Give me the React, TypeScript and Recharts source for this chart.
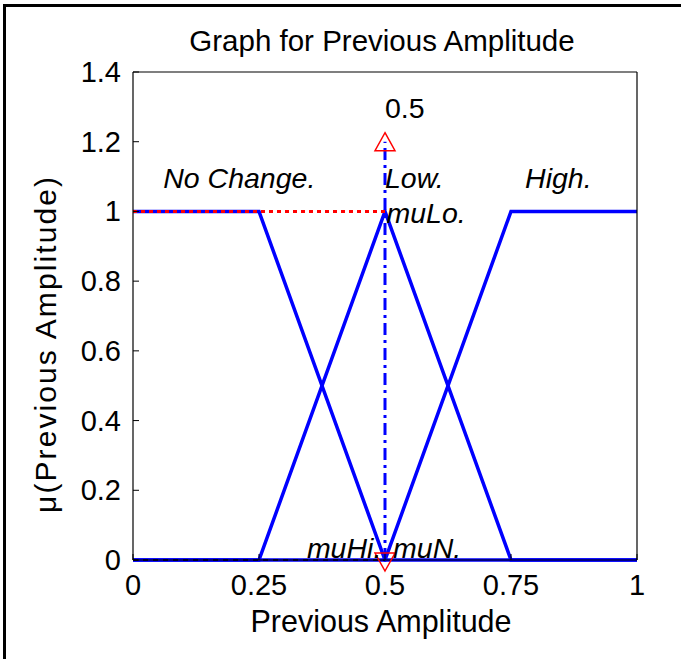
import React from "react";
import { ComposedChart, Line, Scatter, XAxis, YAxis } from "recharts";

const titleText = "Graph for Previous Amplitude";
const xLabelText = "Previous Amplitude";
const yLabelText = "\u03bc(Previous Amplitude)";

const xTicks = [0, 0.25, 0.5, 0.75, 1];
const xTickLabels = ["0", "0.25", "0.5", "0.75", "1"];
const yTicks = [0, 0.2, 0.4, 0.6, 0.8, 1, 1.2, 1.4];
const yTickLabels = ["0", "0.2", "0.4", "0.6", "0.8", "1", "1.2", "1.4"];

// membership functions
const noChangeX = [0, 0.25, 0.5, 1];
const noChangeY = [1, 1, 0, 0];
const lowX = [0, 0.25, 0.5, 0.75, 1];
const lowY = [0, 0, 1, 0, 0];
const highX = [0, 0.5, 0.75, 1];
const highY = [0, 0, 1, 1];

// crisp input and its memberships
const inputValue = 0.5;
const muLo = 1;
const arrowTop = 1.2;

const annotationX = [0.5, 0.06, 0.5, 0.778, 0.503, 0.345, 0.516];
const annotationY = [1.297, 1.096, 1.096, 1.096, 0.995, 0.035, 0.035];
const annotationText = ["0.5", "No Change.", "Low.", "High.", "muLo.", "muHi.", "muN."];
const annotationItalic = [false, true, true, true, true, true, true];

const toPts = (xs: number[], ys: number[]) => xs.map((x, i) => ({ x, y: ys[i] }));

const noChange = toPts(noChangeX, noChangeY);
const low = toPts(lowX, lowY);
const high = toPts(highX, highY);
const verticalLine = toPts([inputValue, inputValue], [0, arrowTop]);
const redDotted = toPts([0, inputValue], [muLo, muLo]);
const blackDashed = toPts([0, inputValue], [0, 0]);
const upMarker = toPts([inputValue], [arrowTop]);
const downMarker = toPts([inputValue], [0]);
const annotations = annotationX.map((x, i) => ({
  x,
  y: annotationY[i],
  text: annotationText[i],
  italic: annotationItalic[i],
}));

const FONT = "'Liberation Sans', Arial, Helvetica, sans-serif";
const FS = 29;
const TICK = 6;

const BottomTick = (p: any) => {
  const { x, y, index } = p;
  return (
    <g>
      <line x1={x} x2={x} y1={y} y2={y - TICK} stroke="#000" strokeWidth={1} />
      <text x={x} y={y + 35} textAnchor="middle" fontFamily={FONT} fontSize={FS} fill="#000">
        {xTickLabels[index]}
      </text>
    </g>
  );
};
const TopTick = (p: any) => {
  const { x, y } = p;
  return <line x1={x} x2={x} y1={y} y2={y + TICK} stroke="#000" strokeWidth={1} />;
};
const LeftTick = (p: any) => {
  const { x, y, index } = p;
  return (
    <g>
      <line x1={x} x2={x + TICK} y1={y} y2={y} stroke="#000" strokeWidth={1} />
      <text x={x - 12} y={y + 10} textAnchor="end" fontFamily={FONT} fontSize={FS} fill="#000">
        {yTickLabels[index]}
      </text>
    </g>
  );
};
const RightTick = (p: any) => {
  const { x, y } = p;
  return <line x1={x} x2={x - TICK} y1={y} y2={y} stroke="#000" strokeWidth={1} />;
};

const UpTriangle = (p: any) => {
  const { cx, cy } = p;
  const w = 10;
  const h = 9;
  return (
    <path
      d={`M${cx},${cy - h} L${cx + w},${cy + h} L${cx - w},${cy + h} Z`}
      fill="none"
      stroke="#ff0000"
      strokeWidth={1.5}
    />
  );
};
const DownTriangle = (p: any) => {
  const { cx, cy } = p;
  const w = 10;
  const h = 9;
  return (
    <path
      d={`M${cx},${cy + h + 2} L${cx + w},${cy - h + 2} L${cx - w},${cy - h + 2} Z`}
      fill="none"
      stroke="#ff0000"
      strokeWidth={1.5}
    />
  );
};
const TextShape = (p: any) => {
  const { cx, cy, payload } = p;
  return (
    <text
      x={cx}
      y={cy + 10}
      textAnchor="start"
      fontFamily={FONT}
      fontSize={28.5}
      fontStyle={payload.italic ? "italic" : "normal"}
      fill="#000"
    >
      {payload.text}
    </text>
  );
};

export default function App() {
  return (
    <div style={{ position: "absolute", left: 0, top: 0, width: 681, height: 659, background: "#fff" }}>
      <div
        style={{
          position: "absolute",
          left: 3,
          top: 4,
          width: 678,
          height: 655,
          borderTop: "3px solid #000",
          borderLeft: "3px solid #000",
          boxSizing: "border-box",
        }}
      />
      <div style={{ position: "absolute", left: 0, top: 0 }}>
        <ComposedChart
          width={681}
          height={659}
          margin={{ top: 71, right: 43, bottom: 98, left: 132 }}
        >
          <XAxis
            xAxisId={0}
            dataKey="x"
            type="number"
            domain={[0, 1]}
            ticks={xTicks}
            height={1}
            tickSize={0}
            tickMargin={0}
            tick={<BottomTick />}
            axisLine={{ stroke: "#000", strokeWidth: 1.2 }}
            label={{
              content: (lp: any) => {
                const vb = lp.viewBox || {};
                return (
                  <text
                    x={vb.x + vb.width / 2 - 4}
                    y={vb.y + 72}
                    textAnchor="middle"
                    fontFamily={FONT}
                    fontSize={30.5}
                    fill="#000"
                  >
                    {xLabelText}
                  </text>
                );
              },
            }}
          />
          <XAxis
            xAxisId="top"
            orientation="top"
            type="number"
            domain={[0, 1]}
            ticks={xTicks}
            height={1}
            tickSize={0}
            tickMargin={0}
            tick={<TopTick />}
            axisLine={{ stroke: "#000", strokeWidth: 1.2 }}
            label={{
              content: (lp: any) => {
                const vb = lp.viewBox || {};
                return (
                  <text
                    x={vb.x + vb.width / 2 - 3}
                    y={vb.y - 20}
                    textAnchor="middle"
                    fontFamily={FONT}
                    fontSize={29.5}
                    fill="#000"
                  >
                    {titleText}
                  </text>
                );
              },
            }}
          />
          <YAxis
            yAxisId={0}
            type="number"
            domain={[0, 1.4]}
            ticks={yTicks}
            width={1}
            tickSize={0}
            tickMargin={0}
            tick={<LeftTick />}
            axisLine={{ stroke: "#000", strokeWidth: 1.2 }}
            label={{
              content: (lp: any) => {
                const vb = lp.viewBox || {};
                const cx = vb.x - 87;
                const cy = vb.y + vb.height / 2 + 29;
                return (
                  <text
                    x={cx}
                    y={cy}
                    transform={`rotate(-90 ${cx} ${cy})`}
                    textAnchor="middle"
                    dominantBaseline="central"
                    fontFamily={FONT}
                    fontSize={30}
                    textLength={336}
                    lengthAdjust="spacing"
                    fill="#000"
                  >
                    {yLabelText}
                  </text>
                );
              },
            }}
          />
          <YAxis
            yAxisId="right"
            orientation="right"
            type="number"
            domain={[0, 1.4]}
            ticks={yTicks}
            width={1}
            tickSize={0}
            tickMargin={0}
            tick={<RightTick />}
            axisLine={{ stroke: "#000", strokeWidth: 1.2 }}
          />

          <Line data={noChange} dataKey="y" type="linear" stroke="#0000ff" strokeWidth={3.5} dot={false} activeDot={false} isAnimationActive={false} />
          <Line data={low} dataKey="y" type="linear" stroke="#0000ff" strokeWidth={3.5} dot={false} activeDot={false} isAnimationActive={false} />
          <Line data={high} dataKey="y" type="linear" stroke="#0000ff" strokeWidth={3.5} dot={false} activeDot={false} isAnimationActive={false} />
          <Line data={blackDashed} dataKey="y" type="linear" stroke="#000" strokeWidth={1.5} strokeDasharray="5 5" dot={false} activeDot={false} isAnimationActive={false} />
          <Line data={redDotted} dataKey="y" type="linear" stroke="#ff0000" strokeWidth={3} strokeDasharray="4 4" dot={false} activeDot={false} isAnimationActive={false} />
          <Line data={verticalLine} dataKey="y" type="linear" stroke="#0000ff" strokeWidth={3} strokeDasharray="12 5 3 5" dot={false} activeDot={false} isAnimationActive={false} />
          <Scatter data={upMarker} dataKey="y" shape={<UpTriangle />} isAnimationActive={false} />
          <Scatter data={downMarker} dataKey="y" shape={<DownTriangle />} isAnimationActive={false} />
          <Scatter data={annotations} dataKey="y" shape={<TextShape />} isAnimationActive={false} />
        </ComposedChart>
      </div>
    </div>
  );
}
